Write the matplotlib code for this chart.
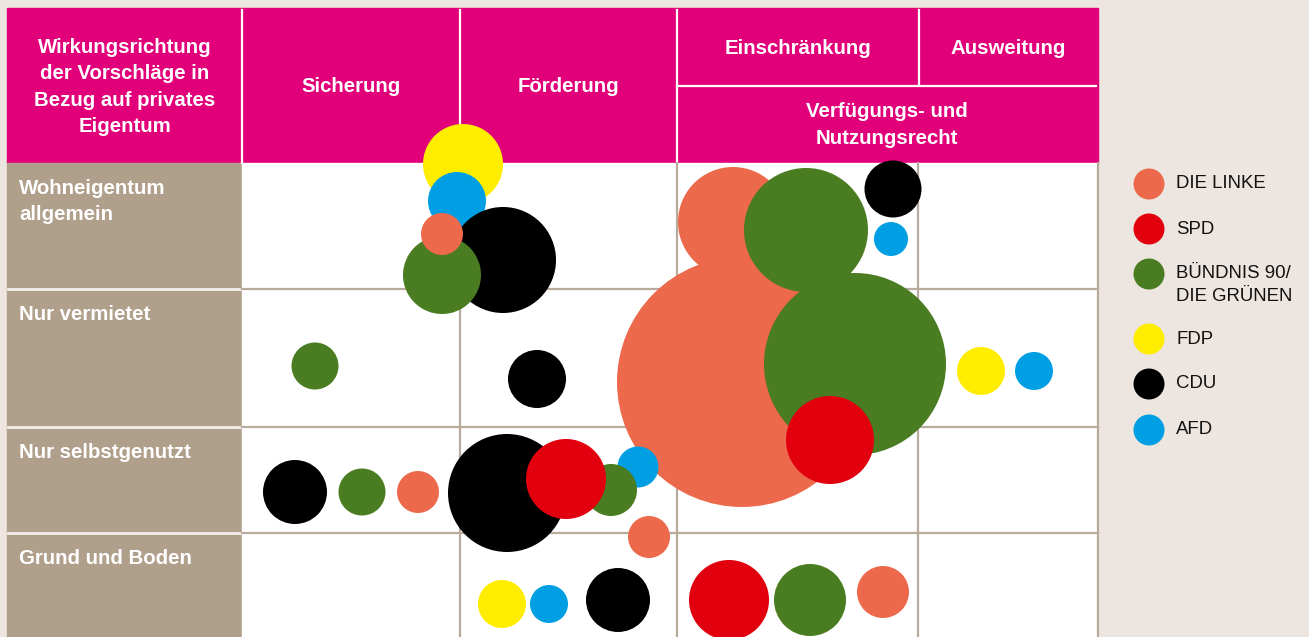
import matplotlib.pyplot as plt
from matplotlib.patches import Circle, Rectangle

# table structure
col_headers = ["Sicherung", "Förderung"]
corner_label = "Wirkungsrichtung\nder Vorschläge in\nBezug auf privates\nEigentum"
top_headers = ["Einschränkung", "Ausweitung"]
sub_header = "Verfügungs- und\nNutzungsrecht"
row_labels = ["Wohneigentum\nallgemein", "Nur vermietet", "Nur selbstgenutzt", "Grund und Boden"]

parties = ["DIE LINKE", "SPD", "BÜNDNIS 90/\nDIE GRÜNEN", "FDP", "CDU", "AFD"]
party_colors = ["#EC694B", "#E2000F", "#4A7C21", "#FFED00", "#000000", "#009FE3"]

# bubbles (centre x, centre y, radius) in table units, drawn in this order
bubble_party = ["FDP", "AFD", "CDU", "BÜNDNIS 90/\nDIE GRÜNEN", "DIE LINKE",
                "DIE LINKE", "DIE LINKE", "BÜNDNIS 90/\nDIE GRÜNEN", "BÜNDNIS 90/\nDIE GRÜNEN", "SPD", "CDU", "AFD",
                "FDP", "AFD",
                "BÜNDNIS 90/\nDIE GRÜNEN", "CDU",
                "CDU", "BÜNDNIS 90/\nDIE GRÜNEN", "DIE LINKE", "AFD", "BÜNDNIS 90/\nDIE GRÜNEN", "CDU", "SPD", "DIE LINKE",
                "FDP", "AFD", "CDU", "SPD", "BÜNDNIS 90/\nDIE GRÜNEN", "DIE LINKE"]
bubble_x = [463, 457, 503, 442, 442,
            742, 733, 806, 855, 830, 893, 891,
            981, 1034,
            315, 537,
            295, 362, 418, 638, 611, 507, 566, 649,
            502, 549, 618, 729, 810, 883]
bubble_y = [164, 201, 260, 275, 234,
            382, 222, 230, 364, 440, 189, 239,
            371, 371,
            366, 379,
            492, 492, 492, 467, 490, 493, 479, 537,
            604, 604, 600, 600, 600, 592]
bubble_r = [40, 29, 53, 39, 21,
            125, 55, 62, 91, 44, 28.5, 17,
            24, 19,
            23.5, 29,
            32, 23.5, 21, 20.5, 26, 59, 40, 21,
            24, 19, 32, 40, 36, 26]

BG = "#EDE5DF"
MAGENTA = "#E2007A"
TAN = "#B09F8B"
GRID = "#B8AB9B"

plt.rcParams['font.family'] = ['Liberation Sans', 'DejaVu Sans']

fig = plt.figure(figsize=(13.09, 6.37), dpi=100, facecolor=BG)
ax = fig.add_axes([0, 0, 1, 1])
ax.set_xlim(0, 1309)
ax.set_ylim(637, 0)
ax.axis('off')

# header band
ax.add_patch(Rectangle((7, 8), 1091, 155, color=MAGENTA, zorder=1))
for x in [242, 460, 677]:
    ax.plot([x, x], [10, 163], color='white', lw=1.6, zorder=2)
ax.plot([919, 919], [10, 85], color='white', lw=1.6, zorder=2)
ax.plot([677, 1096], [86, 86], color='white', lw=1.6, zorder=2)

hkw = dict(color='white', fontsize=14.7, fontweight='bold', ha='center', va='center', zorder=3)
ax.text(125, 87, corner_label, linespacing=1.47, **hkw)
ax.text(351, 86, col_headers[0], **hkw)
ax.text(568, 86, col_headers[1], **hkw)
ax.text(798, 48, top_headers[0], **hkw)
ax.text(1008, 48, top_headers[1], **hkw)
ax.text(887, 125, sub_header, linespacing=1.47, **hkw)

# body
ax.add_patch(Rectangle((7, 163), 235, 474, color=TAN, zorder=1))
ax.add_patch(Rectangle((242, 163), 856, 474, color='white', zorder=1))
row_tops = [163, 289, 427, 533]
for y in row_tops[1:]:
    ax.plot([8, 241], [y, y], color='#F2EEEA', lw=2, zorder=2)
    ax.plot([242, 1098], [y, y], color=GRID, lw=1.6, zorder=2)
for x in [460, 677, 918, 1098]:
    ax.plot([x, x], [163, 637], color=GRID, lw=1.6, zorder=2)

for y, lab in zip(row_tops, row_labels):
    ax.text(19, y + 16, lab, color='white', fontsize=14.7, fontweight='bold',
            ha='left', va='top', linespacing=1.47, zorder=3)

# bubbles
cmap = dict(zip(parties, party_colors))
for i, (p, x, y, r) in enumerate(zip(bubble_party, bubble_x, bubble_y, bubble_r)):
    ax.add_patch(Circle((x, y), r, color=cmap[p], lw=0, zorder=5 + i * 0.01))

# legend
leg_y = [184, 229, 274, 339, 384, 430]
for p, c, y in zip(parties, party_colors, leg_y):
    ax.add_patch(Circle((1149, y), 15.5, color=c, lw=0, zorder=5))
    first, *rest = p.split("\n")
    ax.text(1176, y, first, fontsize=13.4, va='center', ha='left', color='#111111')
    for k, line in enumerate(rest):
        ax.text(1176, y + 22.5 * (k + 1), line, fontsize=13.4, va='center', ha='left', color='#111111')

fig.savefig("out.png", dpi=100, facecolor=BG)
